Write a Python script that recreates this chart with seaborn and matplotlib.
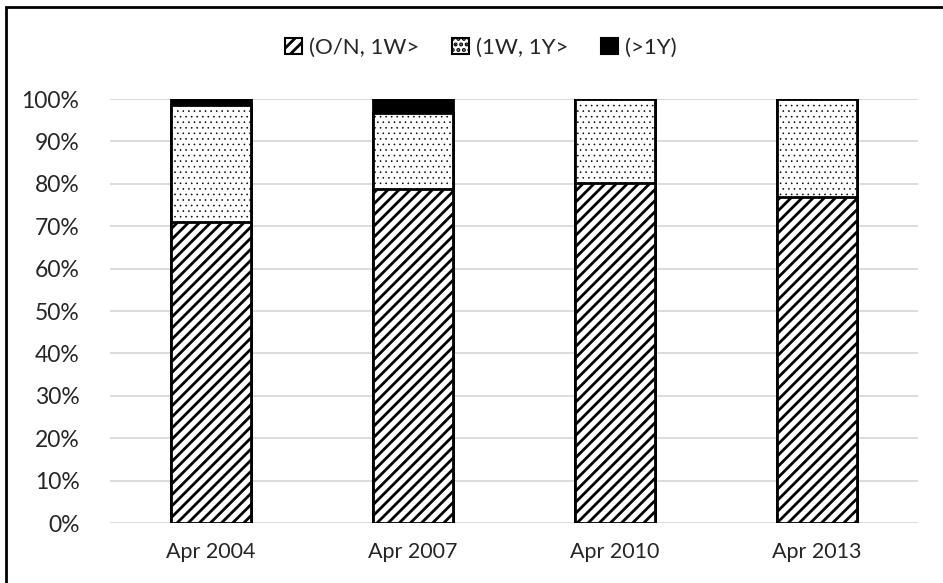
import matplotlib
matplotlib.use("Agg")
import matplotlib.pyplot as plt
import seaborn as sns
import pandas as pd
import numpy as np
from matplotlib.patches import Rectangle, Patch
from matplotlib.ticker import PercentFormatter

categories = ["Apr 2004", "Apr 2007", "Apr 2010", "Apr 2013"]
series_names = ["(O/N, 1W>", "(1W, 1Y>", "(>1Y)"]
on_1w = [0.710, 0.788, 0.801, 0.770]
w1_y1 = [0.275, 0.179, 0.199, 0.230]
gt_1y = [0.015, 0.033, 0.000, 0.000]

sns.set_theme(style="white")
plt.rcParams["font.family"] = ["Lato", "DejaVu Sans"]
plt.rcParams["hatch.linewidth"] = 2.0

df = pd.DataFrame({"cat": categories, "a": on_1w, "b": w1_y1, "c": gt_1y})
df["s2"] = df["a"] + df["b"]
df["s3"] = df["s2"] + df["c"]

fig = plt.figure(figsize=(9.43, 5.83), dpi=100)
ax = fig.add_axes([110/943, 1-523/583, (918-110)/943, (523-99)/583])

n = len(categories)
common = dict(x="cat", order=categories, ax=ax, width=0.4, edgecolor="black",
              linewidth=2, zorder=3)
sns.barplot(data=df, y="s3", color="black", **common)
sns.barplot(data=df, y="s2", color="white", hatch="...", **common)
sns.barplot(data=df, y="a", color="white", hatch="///", **common)
for p in ax.patches[:n]:
    p.set_facecolor("black")
for p in ax.patches[n:]:
    p.set_facecolor("white")
for p in ax.patches[n:2*n]:
    try:
        p.set_hatch_linewidth(0.4)
    except Exception:
        pass

ax.set_ylim(0, 1)
ax.set_xlim(-0.5, n - 0.5)
ax.set_yticks(np.arange(0, 1.01, 0.1))
ax.yaxis.set_major_formatter(PercentFormatter(1.0, decimals=0))
ax.grid(axis="y", color="#d9d9d9", linewidth=1.3, zorder=0)
ax.set_axisbelow(True)
for s in ax.spines.values():
    s.set_visible(False)
ax.set_xlabel("")
ax.set_ylabel("")
ax.tick_params(axis="both", length=0, colors="#262626")
ax.tick_params(axis="y", pad=22, labelsize=16.5)
ax.tick_params(axis="x", pad=14, labelsize=15.5)

dot_handle = Patch(facecolor="white", edgecolor="black", hatch="...", linewidth=1.5, label=series_names[1])
try:
    dot_handle.set_hatch_linewidth(0.4)
except Exception:
    pass
handles = [
    Patch(facecolor="white", edgecolor="black", hatch="///", linewidth=1.5, label=series_names[0]),
    dot_handle,
    Patch(facecolor="black", edgecolor="black", linewidth=1.5, label=series_names[2]),
]
leg = fig.legend(handles=handles, loc="center", bbox_to_anchor=(0.51, 1-48/583), ncol=3,
                 frameon=False, fontsize=16, handlelength=0.75, handleheight=0.75,
                 handletextpad=0.3, columnspacing=1.5, labelcolor="#262626")

fig.patches.append(Rectangle((6/943, -0.1), 1.2, 1-7/583+0.1, transform=fig.transFigure,
                             fill=False, edgecolor="black", linewidth=2, zorder=10))

fig.savefig("out.png", dpi=100)
